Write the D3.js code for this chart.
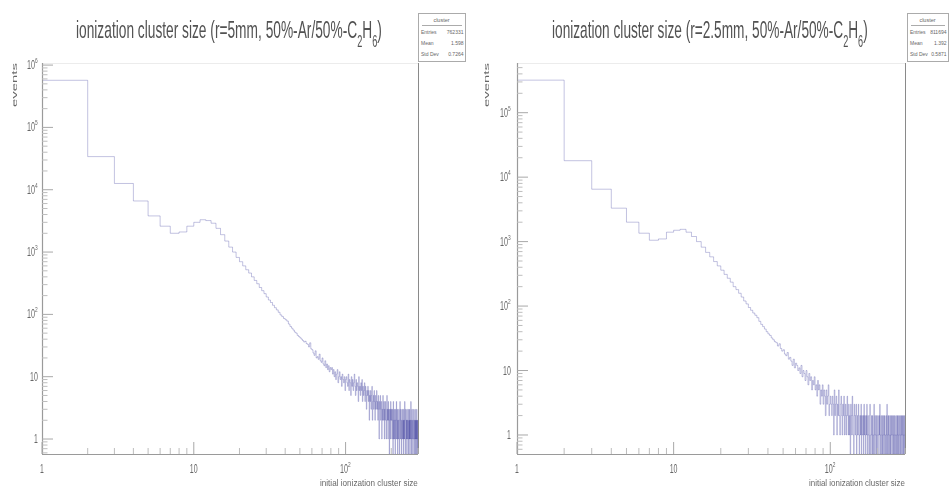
<!DOCTYPE html>
<html><head><meta charset="utf-8">
<script src="https://cdn.jsdelivr.net/npm/d3@7"></script>
<style>html,body{margin:0;padding:0;background:#fff;}svg{display:block;}</style>
</head><body>
<svg id="c" width="949" height="490"></svg>
<script>
// ---- data: counts per integer cluster-size bin [s, s+1), s = 1, 2, 3, ...
const leftCounts = [
570000,34000,12600,6600,3800,2600,2000,2100,2600,3000,
3300,3200,2900,2400,1900,1500,1200,1000,820,700,
600,520,460,400,350,310,270,240,215,190,
170,155,140,128,118,108,98,92,86,82,
78,70,64,60,56,52,50,46,44,42,
40,38,36,37,34,33,30,35,28,27,
24,22,26,20,21,19,23,18,17,20,
16,15,18,14,16,13,15,12,14,13,
14,11,13,10,12,9,11,13,8,10,
12,9,10,7,11,9,8,10,6,9,
10,8,7,11,6,9,8,5,10,7,
9,6,8,11,7,5,9,6,8,7,
4,10,6,7,5,8,6,9,4,7,
5,6,8,4,7,5,3,6,5,7,
4,6,2,5,4,6,3,5,7,2,
4,5,3,6,4,2,5,3,4,6,
3,4,2,5,3,1,4,3,5,2,
3,4,1,3,2,5,3,2,4,1,
3,2,4,3,1,2,5,2,3,1,
4,2,3,0,2,3,1,4,2,3,
2,1,3,2,0,4,1,2,3,1,
2,0,3,2,1,4,2,1,3,0,
2,2,1,3,1,0,2,4,1,2,
3,1,0,2,1,3,2,1,2,0,
3,1,2,1,4,2,0,1,3,2,
1,2,0,3,1,2,2,1,0,3,
1,2,1,3,0,2,1,2,4,1,
0,2,1,3,2,1,0,2,1,1,
3,2,0,1,2,1,3,0,2,1,
1,2,0,3,1,2,1,0,2];
const rightCounts = [
320000,18000,6500,3300,2000,1350,1050,1100,1400,1500,
1550,1400,1200,1000,820,680,580,490,420,360,
310,270,235,200,180,158,138,120,108,95,
86,78,72,66,58,52,48,44,40,37,
35,32,30,28,27,24,26,22,20,21,
18,17,19,15,16,14,12,15,11,13,
12,10,11,9,12,8,10,9,7,10,
8,6,9,7,8,5,7,6,8,5,
6,4,7,5,6,3,5,4,6,3,
5,4,2,5,3,4,6,2,3,4,
3,2,4,3,1,5,2,3,4,1,
3,2,5,2,1,3,4,2,1,3,
2,4,1,2,3,1,2,4,2,1,
3,1,2,0,3,2,1,4,2,1,
0,3,2,1,2,3,0,1,2,1,
3,2,0,1,2,1,3,0,2,1,
1,2,0,3,1,2,1,0,2,1,
3,1,0,2,1,1,0,2,3,1,
0,1,2,1,0,2,1,0,1,3,
1,0,2,1,1,0,2,1,0,1,
2,1,1,0,2,1,3,1,0,1,
2,1,0,1,2,0,1,1,2,0,
1,2,1,0,1,1,2,0,1,3,
1,0,1,2,1,0,2,1,1,0,
1,2,0,1,1,2,1,0,1,2,
1,1,0,2,1,0,1,2,1,1,
0,1,2,1,0,1,1,2,0,1,
2,1,0,1,1,2,1,0,1,1,
2,0,1,1,2,1,0,1,2,1,
1,0,2,1,1,0,1,2,1];
const titles = [
  ["ionization cluster size (r=5mm, 50%-Ar/50%-C", "2", "H", "6", ")"],
  ["ionization cluster size (r=2.5mm, 50%-Ar/50%-C", "2", "H", "6", ")"]
];
const xTitle = "initial ionization cluster size";
const yTitle = "events";
const statHeader = "cluster";
const statLabels = ["Entries", "Mean", "Std Dev"];
const statValuesLeft = ["762331", "1.598", "0.7264"];
const statValuesRight = ["811694", "1.392", "0.5871"];
const xTickLabels = [["1",""],["10",""],["10","2"]];
const xDomain = [1, 300];
const yDomains = [[0.575, 1.08e6], [0.507, 5.9e5]];

// ---- layout
const panels = [
  {x0:42, x1:418, y0:63, y1:454, data:leftCounts, yDom:yDomains[0], title:titles[0], titleCx:229, titleW:306,
   yLabEnd:38, yTitleX:17, stat:{x:418, w:47, vals:statValuesLeft}, xTitleW:98},
  {x0:517, x1:905, y0:63, y1:454, data:rightCounts, yDom:yDomains[1], title:titles[1], titleCx:710, titleW:316,
   yLabEnd:511, yTitleX:489, stat:{x:907, w:41, vals:statValuesRight}, xTitleW:96}
];
const svg = d3.select("#c");
const FONT = "'Liberation Sans Narrow','Liberation Sans',Arial,sans-serif";

function squeeze(g, targetW, anchor, x, y) {
  const bb = g.node().getBBox();
  const s = targetW / bb.width;
  let tx = x - bb.x * s;
  if (anchor === "middle") tx = x - targetW / 2 - bb.x * s;
  if (anchor === "end") tx = x - targetW - bb.x * s;
  g.attr("transform", `translate(${tx},${y}) scale(${s},1)`);
}

panels.forEach((p, pi) => {
  const xs = d3.scaleLog().domain(xDomain).range([p.x0, p.x1]);
  const ys = d3.scaleLog().domain(p.yDom).range([p.y1, p.y0]);
  const g = svg.append("g");
  const tl = svg.append("g").attr("opacity", 0.99); // text layer (grayscale AA)

  const cid = "clip" + pi;
  svg.append("clipPath").attr("id", cid).append("rect")
    .attr("x", p.x0).attr("y", p.y0).attr("width", p.x1 - p.x0).attr("height", p.y1 - p.y0);

  // frame
  g.append("line").attr("x1", p.x0).attr("x2", p.x1).attr("y1", p.y0 + 0.5).attr("y2", p.y0 + 0.5)
    .attr("stroke", "#ececec").attr("stroke-width", 1);
  g.append("line").attr("x1", p.x1 + 0.5).attr("x2", p.x1 + 0.5).attr("y1", p.y0).attr("y2", p.y1)
    .attr("stroke", "#8a8a8a").attr("stroke-width", 1);

  // histogram (step), drawn as separate segments so dense regions build up
  const ymin = p.yDom[0];
  const pts = [{s: 1, v: ymin}];
  p.data.forEach((c, i) => {
    const v = c > ymin ? c : ymin;
    pts.push({s: i + 1, v: v});
    pts.push({s: i + 2, v: v});
  });
  pts.push({s: p.data.length + 1, v: ymin});
  const segs = d3.pairs(pts);
  g.append("g").attr("clip-path", `url(#${cid})`)
    .selectAll("line").data(segs).join("line")
    .attr("x1", d => xs(d[0].s)).attr("y1", d => ys(d[0].v))
    .attr("x2", d => xs(d[1].s)).attr("y2", d => ys(d[1].v))
    .attr("stroke", "#22228f").attr("stroke-opacity", 0.3).attr("stroke-width", 0.9);

  // axes lines
  g.append("line").attr("x1", p.x0 + 0.5).attr("x2", p.x0 + 0.5).attr("y1", p.y0).attr("y2", p.y1)
    .attr("stroke", "#9a9a9a").attr("stroke-width", 1.2);
  g.append("line").attr("x1", p.x0).attr("x2", p.x1).attr("y1", p.y1 + 0.5).attr("y2", p.y1 + 0.5)
    .attr("stroke", "#9a9a9a").attr("stroke-width", 1.2);

  // y ticks
  const yMaj = [], yMin = [];
  for (let d = -1; d <= 7; d++) {
    for (let k = 1; k <= 9; k++) {
      const v = k * Math.pow(10, d);
      if (v < p.yDom[0] || v > p.yDom[1]) continue;
      (k === 1 ? yMaj : yMin).push(v);
    }
  }
  g.selectAll(null).data(yMaj).join("line")
    .attr("x1", p.x0).attr("x2", p.x0 + 11).attr("y1", d => ys(d)).attr("y2", d => ys(d))
    .attr("stroke", "#a8a8a8");
  g.selectAll(null).data(yMin).join("line")
    .attr("x1", p.x0).attr("x2", p.x0 + 5.5).attr("y1", d => ys(d)).attr("y2", d => ys(d))
    .attr("stroke", "#bdbdbd");
  yMaj.forEach(v => {
    const e = Math.round(Math.log10(v));
    const tg = tl.append("g");
    const t = tg.append("text").attr("font-family", FONT).attr("font-size", 12).attr("fill", "#666");
    if (e === 0) t.text("1");
    else if (e === 1) t.text("10");
    else { t.append("tspan").text("10"); t.append("tspan").attr("dy", -6).attr("font-size", 8).text(e); }
    const w = e === 0 ? 4 : (e === 1 ? 8 : 11);
    squeeze(tg, w, "end", p.yLabEnd, ys(v) + 4);
  });

  // x ticks
  const xMaj = [], xMin = [];
  for (let d = 0; d <= 2; d++) for (let k = 1; k <= 9; k++) {
    const v = k * Math.pow(10, d);
    if (v < xDomain[0] || v > xDomain[1]) continue;
    (k === 1 ? xMaj : xMin).push(v);
  }
  g.selectAll(null).data(xMaj).join("line")
    .attr("x1", d => xs(d)).attr("x2", d => xs(d)).attr("y1", p.y1).attr("y2", p.y1 - 12)
    .attr("stroke", "#a8a8a8");
  g.selectAll(null).data(xMin).join("line")
    .attr("x1", d => xs(d)).attr("x2", d => xs(d)).attr("y1", p.y1).attr("y2", p.y1 - 6)
    .attr("stroke", "#bdbdbd");
  xMaj.forEach((v, i) => {
    const lab = xTickLabels[i];
    const tg = tl.append("g");
    const t = tg.append("text").attr("font-family", FONT).attr("font-size", 12).attr("fill", "#666");
    t.append("tspan").text(lab[0]);
    if (lab[1]) t.append("tspan").attr("dy", -6).attr("font-size", 8).text(lab[1]);
    const w = lab[1] ? 11 : (lab[0].length === 1 ? 4 : 8);
    squeeze(tg, w, "middle", xs(v), p.y1 + 19);
  });

  // axis titles
  const xt = tl.append("g");
  xt.append("text").attr("font-family", FONT).attr("font-size", 9).attr("fill", "#666").text(xTitle);
  squeeze(xt, p.xTitleW, "end", p.x1, p.y1 + 32);

  const ytOuter = tl.append("g").attr("transform", `translate(${p.yTitleX},${p.y0}) rotate(-90)`);
  const yt = ytOuter.append("g");
  yt.append("text").attr("font-family", FONT).attr("font-size", 8).attr("fill", "#666").text(yTitle);
  squeeze(yt, 44, "end", 0, 0);

  // title
  const tg = tl.append("g");
  const t = tg.append("text").attr("font-family", FONT).attr("font-size", 24).attr("fill", "#505050");
  t.append("tspan").text(p.title[0]);
  t.append("tspan").attr("dy", 9).attr("font-size", 16).text(p.title[1]);
  t.append("tspan").attr("dy", -9).text(p.title[2]);
  t.append("tspan").attr("dy", 9).attr("font-size", 16).text(p.title[3]);
  t.append("tspan").attr("dy", -9).text(p.title[4]);
  squeeze(tg, p.titleW, "middle", p.titleCx, 38);

  // stat box
  const sb = tl.append("g");
  sb.append("rect").attr("x", p.stat.x + 0.5).attr("y", 13.5).attr("width", p.stat.w).attr("height", 48)
    .attr("fill", "#fff").attr("stroke", "#aaa").attr("stroke-width", 1);
  sb.append("line").attr("x1", p.stat.x + 4).attr("x2", p.stat.x + p.stat.w - 3).attr("y1", 25.5).attr("y2", 25.5)
    .attr("stroke", "#aaa");
  sb.append("text").attr("x", p.stat.x + p.stat.w / 2).attr("y", 22).attr("text-anchor", "middle")
    .attr("font-family", FONT).attr("font-size", 5.5).attr("fill", "#666").text(statHeader);
  statLabels.forEach((lab, i) => {
    const yy = 34 + i * 11;
    sb.append("text").attr("x", p.stat.x + 3).attr("y", yy).attr("font-family", FONT).attr("font-size", 5)
      .attr("fill", "#666").text(lab);
    sb.append("text").attr("x", p.stat.x + p.stat.w - 1.5).attr("y", yy).attr("text-anchor", "end")
      .attr("font-family", FONT).attr("font-size", 5).attr("fill", "#666").text(p.stat.vals[i]);
  });
});
</script>
</body></html>
